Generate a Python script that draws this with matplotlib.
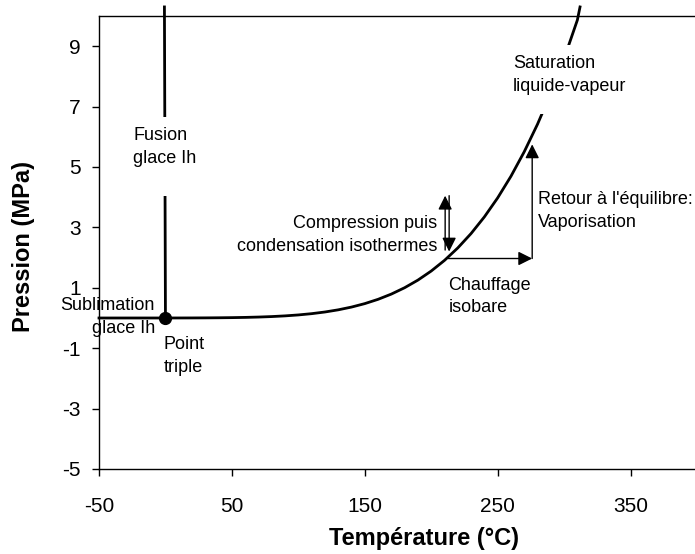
import matplotlib
matplotlib.use("Agg")
import matplotlib.pyplot as plt
from matplotlib.patches import Rectangle

plt.rcParams['font.family'] = ['Liberation Sans', 'DejaVu Sans']

# Saturation liquide-vapeur (°C, MPa)
sat_T = [0.01, 10, 20, 30, 40, 50, 60, 70, 80, 90, 100, 110, 120, 130, 140, 150,
         160, 170, 180, 190, 200, 210, 220, 230, 240, 250, 260, 270, 280, 290,
         300, 310, 312]
sat_P = [0.0006, 0.0012, 0.0023, 0.0042, 0.0074, 0.0124, 0.0199, 0.0312, 0.0474,
         0.0702, 0.1014, 0.1434, 0.1987, 0.2703, 0.3615, 0.4761, 0.6181, 0.7921,
         1.0026, 1.2548, 1.5547, 1.9077, 2.3196, 2.7968, 3.3469, 3.9762, 4.6923,
         5.5038, 6.4166, 7.4413, 8.5876, 9.8658, 10.3]
# Fusion glace Ih
fus_T = [0.01, -0.76]
fus_P = [0.0006, 10.3]
# Sublimation glace Ih
sub_T = [-50, 0.01]
sub_P = [0.0000039, 0.0006]
# Point triple
tp_T = [0.01]
tp_P = [0.0006]

# Process arrows (start T, start P, end T, end P)
comp_up = (210.5, 2.25, 210.5, 4.05)
comp_down = (213.5, 4.05, 213.5, 2.2)
heat = (212.6, 1.97, 276.0, 1.97)
vapo = (276.0, 1.97, 276.0, 5.75)

xticks = [-50, 50, 150, 250, 350]
yticks = [-5, -3, -1, 1, 3, 5, 7, 9]

fig = plt.figure(figsize=(6.95, 5.54), dpi=100)
ax = fig.add_axes([99/695, 1-469/554, 450*1.3288/695, (469-16)/554])
ax.set_xlim(-50, 400)
ax.set_ylim(-5, 10)

ax.plot(sat_T, sat_P, color='black', lw=2, clip_on=False, zorder=2)
ax.plot(fus_T, fus_P, color='black', lw=2, clip_on=False, zorder=2)
ax.plot(sub_T, sub_P, color='black', lw=2, clip_on=False, zorder=2)
ax.plot(tp_T, tp_P, 'o', color='black', ms=8.5, zorder=5, clip_on=False)

# white text-box backgrounds cutting the curves
ax.add_patch(Rectangle((-15, 4.05), 30, 2.6, facecolor='white', edgecolor='none', zorder=3, clip_on=False))
ax.add_patch(Rectangle((262, 6.75), 60, 2.3, facecolor='white', edgecolor='none', zorder=3, clip_on=False))

akw = dict(arrowstyle='-|>,head_length=0.4,head_width=0.2', color='black', lw=1,
           mutation_scale=21, shrinkA=0, shrinkB=0)
for a in (comp_up, comp_down, heat, vapo):
    ax.annotate('', xy=(a[2], a[3]), xytext=(a[0], a[1]), arrowprops=akw, zorder=4)

fs = 13
ls = 1.42
ax.text(-24.4, 6.32, 'Fusion\nglace Ih', fontsize=fs, va='top', ha='left', linespacing=ls, zorder=6)
ax.text(261.6, 8.7, 'Saturation\nliquide-vapeur', fontsize=fs, va='top', ha='left', linespacing=ls, zorder=6)
ax.text(-7.9, 0.68, 'Sublimation\nglace Ih', fontsize=fs, va='top', ha='right', multialignment='right', linespacing=ls, zorder=6)
ax.text(-1.1, -0.6, 'Point\ntriple', fontsize=fs, va='top', ha='left', linespacing=ls, zorder=6)
ax.text(204.8, 3.4, 'Compression puis\ncondensation isothermes', fontsize=fs, va='top', ha='right', multialignment='right', linespacing=ls, zorder=6)
ax.text(212.9, 1.36, 'Chauffage\nisobare', fontsize=fs, va='top', ha='left', linespacing=ls, zorder=6)
ax.text(280.1, 4.19, "Retour à l'équilibre:\nVaporisation", fontsize=fs, va='top', ha='left', linespacing=ls, zorder=6)

ax.set_xticks(xticks)
ax.set_yticks(yticks)
ax.set_xticklabels([str(v) for v in xticks])
ax.set_yticklabels([str(v) for v in yticks])
ax.tick_params(axis='both', direction='out', length=5, width=1, labelsize=15)
ax.tick_params(axis='x', pad=15)
ax.tick_params(axis='y', pad=8)
for s in ('left', 'bottom', 'top'):
    ax.spines[s].set_linewidth(1)
ax.spines['right'].set_visible(False)

ax.set_xlabel('Température (°C)', fontsize=17, fontweight='bold')
ax.set_ylabel('Pression (MPa)', fontsize=17, fontweight='bold')
ax.xaxis.set_label_coords((423.5-99)/(450*1.3288), -(538-469)/453, transform=ax.transAxes)
ax.yaxis.set_label_coords(-(99-24)/(450*1.3288), (469-247)/453, transform=ax.transAxes)
ax.xaxis.label.set_va('center')
ax.yaxis.label.set_va('center')

fig.savefig('out.png', dpi=100)
